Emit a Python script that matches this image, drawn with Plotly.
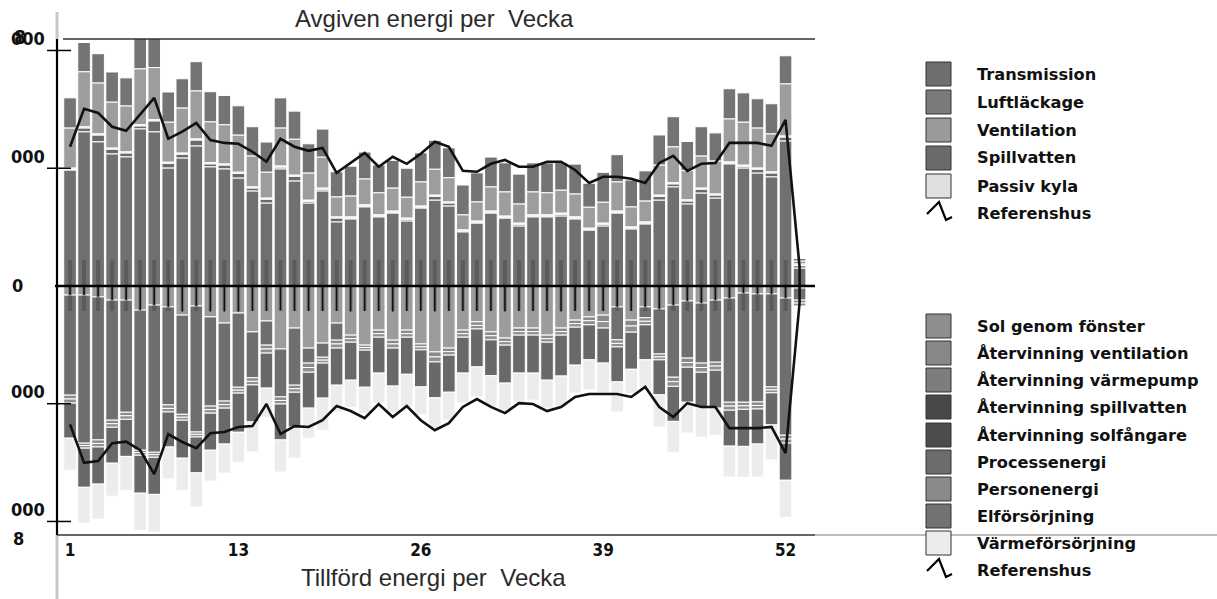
import plotly.graph_objects as go

# ---------------- data ----------------
weeks = list(range(1, 54))
week_ticks = [1, 13, 26, 39, 52]

# Avgiven energi (upper, positive)
transmission = [3940, 5240, 4900, 4490, 4390, 5340, 5240, 4010, 4350, 4760, 4050, 3980, 3670, 3230, 2820, 3980,
                3570, 2820, 3230, 2180, 2280, 2690, 2350, 2480, 2210, 2650, 2920, 2720, 1840, 2140, 2480, 2310,
                2040, 2350, 2350, 2380, 2280, 1900, 2040, 2480, 1940, 2110, 2920, 3370, 2790, 3160, 2990, 4150,
                4010, 3840, 3710, 4930, 610]
spillvatten = [30, 130, 230, 160, 130, 100, 370, 160, 130, 200, 100, 130, 160, 100, 130, 60, 160, 60, 60, 130,
               30, 30, 30, 30, 60, 30, 130, 100, 30, 30, 30, 30, 60, 30, 30, 60, 30, 30, 60, 30, 30, 30, 130,
               100, 100, 130, 100, 30, 60, 130, 130, 130, 80]
passiv_kyla = [40, 40, 40, 40, 40, 40, 40, 40, 40, 40, 40, 40, 40, 40, 40, 40, 40, 40, 40, 40, 40, 40, 40, 40,
               40, 40, 40, 40, 40, 40, 40, 40, 40, 40, 40, 40, 40, 40, 40, 40, 40, 40, 40, 40, 40, 40, 40, 40,
               40, 40, 40, 40, 60]
ventilation = [1360, 1870, 1730, 1560, 1560, 1900, 1770, 1360, 1530, 1630, 1390, 1330, 1260, 1050, 880, 1290,
               1220, 920, 1050, 680, 710, 880, 750, 780, 710, 820, 880, 820, 510, 650, 820, 820, 650, 780, 750,
               780, 780, 710, 710, 990, 680, 710, 1020, 1220, 990, 1090, 1120, 1460, 1460, 1360, 1290, 1770, 100]
luftlackage = [1020, 990, 990, 1020, 950, 1150, 1100, 1020, 990, 990, 1020, 990, 990, 990, 1020, 1020, 950, 990,
               950, 850, 1020, 920, 950, 950, 990, 990, 990, 1020, 1020, 990, 1020, 990, 1020, 990, 1020, 950,
               1020, 820, 1020, 920, 920, 1020, 1020, 1020, 990, 990, 950, 1020, 990, 990, 1020, 950, 90]
referens_avgiven = [4730, 6020, 5880, 5410, 5270, 5850, 6390, 5000, 5240, 5540, 4960, 4860, 4830, 4560, 4220,
                    5000, 4730, 4590, 4690, 3840, 4180, 4520, 4050, 4390, 4150, 4490, 4900, 4730, 3910, 3880,
                    4150, 4280, 4050, 4050, 4220, 4220, 3940, 3500, 3710, 3710, 3640, 3500, 4180, 4420, 3910,
                    4150, 4180, 4860, 4860, 4860, 4760, 5640, 650]

# Tillförd energi (lower, shown negative)
sol_genom_fonster = [310, 310, 370, 480, 480, 820, 650, 710, 990, 680, 1050, 1260, 920, 1560, 1190, 2140, 1430,
                     2110, 1940, 1260, 1670, 2010, 1500, 1840, 1500, 1970, 2240, 2110, 1500, 1220, 1560, 1770,
                     1430, 1430, 1670, 1430, 1160, 1050, 990, 710, 1160, 710, 780, 650, 510, 580, 480, 410, 240,
                     270, 270, 410, 70]
elforsorjning = [3400, 5030, 4860, 4080, 3810, 4760, 5000, 3330, 3370, 4280, 3030, 2650, 2520, 1560, 820, 1630,
                 1940, 510, 480, 580, 0, 0, 0, 0, 0, 0, 0, 0, 0, 0, 0, 0, 0, 0, 0, 0, 0, 0, 0, 1120, 0, 370,
                 1530, 2450, 1940, 2040, 2110, 3540, 3710, 3670, 3160, 4660, 410]
atervinning_varmepump = [130, 80, 120, 120, 120, 80, 80, 120, 100, 80, 120, 120, 100, 120, 130, 120, 120, 150,
                         100, 130, 120, 80, 120, 130, 120, 100, 170, 120, 120, 120, 130, 120, 120, 120, 120, 120,
                         120, 130, 220, 120, 200, 120, 100, 150, 150, 150, 130, 130, 120, 120, 100, 130, 100]
personenergi = [140, 90, 120, 120, 120, 90, 90, 120, 100, 90, 120, 120, 100, 120, 140, 120, 120, 160, 100, 140,
                120, 90, 120, 140, 120, 100, 170, 120, 120, 120, 140, 120, 120, 120, 120, 120, 120, 140, 220, 120,
                210, 120, 100, 160, 160, 160, 140, 140, 120, 120, 100, 140, 100]
processenergi = [1190, 1330, 1260, 1220, 1260, 1290, 1260, 1190, 1290, 1220, 1260, 1220, 1330, 1260, 1190, 1220,
                 1190, 1220, 1190, 1260, 1290, 1260, 1220, 1290, 1260, 1260, 1220, 1260, 1220, 1290, 1220, 1290,
                 1290, 1290, 1290, 1390, 1290, 1190, 1190, 1190, 1260, 1190, 1190, 1190, 1190, 1190, 1290, 1220,
                 1260, 1190, 1090, 1260, 0]
varmeforsorjning = [1090, 1220, 1190, 1120, 1160, 1260, 1290, 1090, 1090, 1160, 1050, 990, 1020, 1020, 990, 1090,
                    1050, 1020, 1090, 920, 920, 880, 1020, 920, 1120, 950, 1090, 950, 1020, 1020, 1050, 1020,
                    1020, 920, 950, 1050, 950, 1020, 1020, 1020, 820, 1020, 1090, 1050, 1050, 1020, 920, 1050,
                    1050, 1120, 1190, 1260, 0]
atervinning_center = [310, 310, 370, 480, 480, 820, 650, 710, 870, 680, 870, 870, 870, 850, 850, 830, 850, 850,
                      850, 850, 870, 850, 850, 870, 850, 850, 870, 850, 850, 850, 850, 870, 850, 850, 850, 870,
                      850, 850, 850, 710, 850, 710, 780, 650, 510, 580, 480, 410, 240, 270, 270, 410, 0]
referens_tillford = [4700, 6010, 5950, 5340, 5290, 5580, 6390, 5030, 5300, 5510, 5000, 4960, 4790, 4760, 4010,
                     5030, 4760, 4790, 4560, 4080, 4250, 4490, 4010, 4450, 4080, 4560, 4900, 4660, 4110, 3840,
                     4110, 4320, 3980, 4010, 4250, 4110, 3770, 3670, 3670, 3670, 3770, 3430, 4110, 4450, 3980,
                     4110, 4110, 4830, 4830, 4830, 4790, 5680, 580]

upper_legend = ["Transmission", "Luftläckage", "Ventilation", "Spillvatten", "Passiv kyla"]
upper_legend_colors = ["#6e6e6e", "#7a7a7a", "#9a9a9a", "#6b6b6b", "#e0e0e0"]
lower_legend = ["Sol genom fönster", "Återvinning ventilation", "Återvinning värmepump",
                "Återvinning spillvatten", "Återvinning solfångare", "Processenergi", "Personenergi",
                "Elförsörjning", "Värmeförsörjning"]
lower_legend_colors = ["#8e8e8e", "#878787", "#7d7d7d", "#484848", "#4c4c4c", "#6c6c6c", "#8a8a8a",
                       "#727272", "#ececec"]

# ---------------- geometry ----------------
W, H = 1217, 599
L, R, T, B = 57, 815, 39, 535
Y_MIN, Y_MAX = -8460, 8390
X_MIN, X_MAX = 0.07, 54.1


def px(xp):
    return (xp - L) / (R - L)


def py(yp):
    return (B - yp) / (B - T)


fig = go.Figure()

bar_kw = dict(width=0.9, showlegend=False, hoverinfo="skip")
upper_stack = [(transmission, "#707070"), (spillvatten, "#6a6a6a"), (passiv_kyla, "#d8d8d8"),
               (ventilation, "#9d9d9d"), (luftlackage, "#747474")]
upper_names = ["Transmission", "Spillvatten", "Passiv kyla", "Ventilation", "Luftläckage"]
for (vals, col), nm in zip(upper_stack, upper_names):
    fig.add_bar(x=weeks, y=vals, name=nm, marker=dict(color=col, line=dict(color="white", width=1)), **bar_kw)

lower_stack = [(sol_genom_fonster, "#9c9c9c"), (elforsorjning, "#6f6f6f"), (atervinning_varmepump, "#8a8a8a"),
               (personenergi, "#909090"), (processenergi, "#696969"), (varmeforsorjning, "#ececec")]
lower_names = ["Sol genom fönster", "Elförsörjning", "Återvinning värmepump", "Personenergi",
               "Processenergi", "Värmeförsörjning"]
for (vals, col), nm in zip(lower_stack, lower_names):
    fig.add_bar(x=weeks, y=[-v for v in vals], name=nm,
                marker=dict(color=col, line=dict(color="white", width=1)), **bar_kw)

# soft dark streaks at bar centres
SMUDGE_UP, SMUDGE_DN = 880, 850
sx, sy = [], []
for w in weeks[:-1]:
    sx += [w, w, None, w, w, None]
    sy += [0, SMUDGE_UP, None, 0, -SMUDGE_DN, None]
fig.add_scatter(x=sx, y=sy, mode="lines", line=dict(color="rgba(40,40,40,0.28)", width=4),
                showlegend=False, hoverinfo="skip")

# thin black centre lines below zero
cx, cy = [], []
for w, v in zip(weeks, atervinning_center):
    cx += [w, w, None]
    cy += [0, -v, None]
fig.add_scatter(x=cx, y=cy, mode="lines", line=dict(color="#111111", width=1.6),
                showlegend=False, hoverinfo="skip")

# Referenshus line (upper then lower, joined at the last week)
fig.add_scatter(x=weeks + weeks[::-1], y=referens_avgiven + [-v for v in referens_tillford][::-1],
                mode="lines", line=dict(color="#111111", width=2.6), name="Referenshus",
                showlegend=False, hoverinfo="skip")

shapes = []
# zero line
shapes.append(dict(type="line", xref="paper", yref="y", x0=px(55), x1=1, y0=0, y1=0,
                   line=dict(color="black", width=2.6), layer="above"))
# axis frame
shapes.append(dict(type="line", xref="paper", yref="paper", x0=0, x1=0, y0=py(12), y1=1,
                   line=dict(color="#c8c8c8", width=3)))
shapes.append(dict(type="line", xref="paper", yref="paper", x0=0, x1=0, y0=0, y1=py(599),
                   line=dict(color="#c8c8c8", width=3)))
shapes.append(dict(type="line", xref="paper", yref="paper", x0=0, x1=0, y0=0, y1=1,
                   line=dict(color="black", width=2.2), layer="above"))
shapes.append(dict(type="line", xref="paper", yref="paper", x0=px(63), x1=1, y0=1, y1=1,
                   line=dict(color="#333333", width=1.5)))
shapes.append(dict(type="line", xref="paper", yref="paper", x0=0, x1=1, y0=0, y1=0,
                   line=dict(color="#333333", width=1.5)))
shapes.append(dict(type="line", xref="paper", yref="paper", x0=1, x1=px(1217), y0=0, y1=0,
                   line=dict(color="#bdbdbd", width=2)))
# y ticks crossing the axis
y_tick_vals = [8000, 4000, -4000, -8000]
for v in y_tick_vals:
    shapes.append(dict(type="line", xref="paper", yref="y", x0=px(47), x1=px(71), y0=v, y1=v,
                       line=dict(color="black", width=1.5), layer="above"))

annotations = []
lab_font = dict(family="DejaVu Sans Condensed, DejaVu Sans, sans-serif", size=18, color="#111111",
                weight="bold")
for v in y_tick_vals:
    annotations.append(dict(x=px(47), y=v, xref="paper", yref="y", text="000", showarrow=False,
                            xanchor="right", yanchor="middle", yshift=12, font=lab_font))
annotations.append(dict(x=px(25), y=0, xref="paper", yref="y", text="0", showarrow=False,
                        xanchor="right", yanchor="middle", font=lab_font))
annotations.append(dict(x=px(12), y=py(37), xref="paper", yref="paper", text="8", showarrow=False,
                        xanchor="left", yanchor="middle", font=dict(lab_font, size=19)))
annotations.append(dict(x=px(11), y=py(538), xref="paper", yref="paper", text="8", showarrow=False,
                        xanchor="left", yanchor="middle", font=lab_font))

title_font = dict(family="Liberation Sans, Arial, sans-serif", size=24, color="#2a2a2a")
annotations.append(dict(x=px(434), y=py(18), xref="paper", yref="paper", text="Avgiven energi per  Vecka",
                        showarrow=False, xanchor="center", yanchor="middle", font=title_font))
annotations.append(dict(x=px(433), y=py(577), xref="paper", yref="paper", text="Tillförd energi per  Vecka",
                        showarrow=False, xanchor="center", yanchor="middle", font=title_font))

# manual legend
leg_font = dict(family="DejaVu Sans, Verdana, sans-serif", size=16.2, color="#111111", weight="bold")


def legend_block(names, colors, y_centres):
    for nm, col, yc in zip(names, colors, y_centres):
        shapes.append(dict(type="rect", xref="paper", yref="paper", x0=px(926), x1=px(951),
                           y0=py(yc + 12), y1=py(yc - 12), fillcolor=col,
                           line=dict(color="#333333", width=1)))
        annotations.append(dict(x=px(975), y=py(yc), xref="paper", yref="paper", text=nm, showarrow=False,
                                xanchor="left", yanchor="middle", font=leg_font))


def legend_zig(yc):
    pts = [(927, yc + 1), (939, yc - 11), (946, yc + 7), (952, yc + 4)]
    path = "M " + " L ".join(f"{px(a):.5f},{py(b):.5f}" for a, b in pts)
    shapes.append(dict(type="path", xref="paper", yref="paper", path=path,
                       line=dict(color="black", width=2.2)))
    annotations.append(dict(x=px(975), y=py(yc), xref="paper", yref="paper", text="Referenshus",
                            showarrow=False, xanchor="left", yanchor="middle", font=leg_font))


legend_block(upper_legend, upper_legend_colors, [74, 102, 130, 158, 186])
legend_zig(213)
legend_block(lower_legend, lower_legend_colors, [326, 353, 380, 407, 435, 462, 489, 516, 543])
legend_zig(570)

fig.update_layout(
    width=W, height=H,
    margin=dict(l=L, r=W - R, t=T, b=H - B),
    paper_bgcolor="white", plot_bgcolor="white",
    barmode="relative", bargap=0.1,
    shapes=shapes, annotations=annotations,
    showlegend=False,
    xaxis=dict(range=[X_MIN, X_MAX], showgrid=False, zeroline=False, showline=False,
               tickvals=week_ticks, ticktext=[str(t) for t in week_ticks], ticks="",
               tickfont=dict(family="DejaVu Sans Condensed, DejaVu Sans, sans-serif", size=17,
                             color="#111111", weight="bold"),
               ticklabelstandoff=3, fixedrange=True),
    yaxis=dict(range=[Y_MIN, Y_MAX], showgrid=False, zeroline=False, showline=False,
               showticklabels=False, ticks="", fixedrange=True),
)

fig.write_html("out.html")
